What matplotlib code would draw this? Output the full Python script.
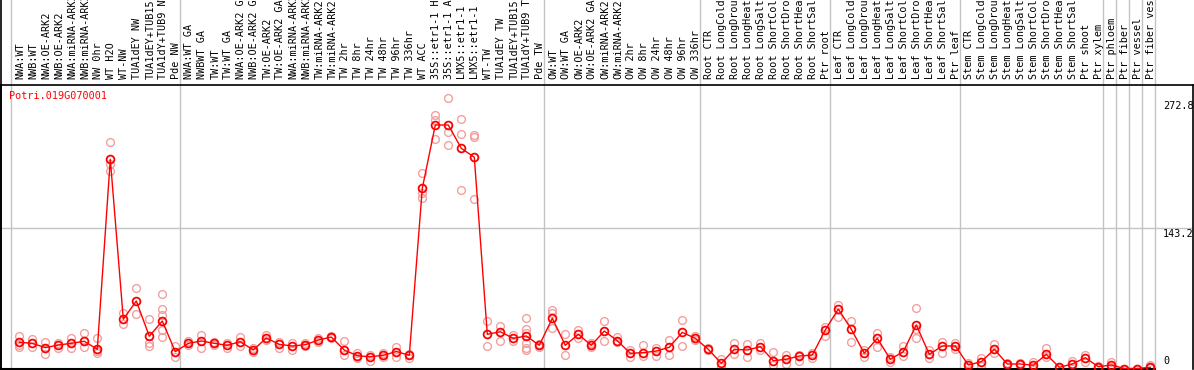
"""
Expression profile of Potri.019G070001 across poplar samples.
Mean per sample as a red line, replicates as pale circles.
"""

import matplotlib
matplotlib.use("Agg")
import matplotlib.pyplot as plt
from matplotlib.transforms import blended_transform_factory


# Data

GENE = "Potri.019G070001"

samples = [
    "NWA:WT", "NWB:WT", "NWA:OE-ARK2", "NWB:OE-ARK2", "NWA:miRNA-ARK2",
    "NWB:miRNA-ARK2", "NW 0hr", "WT H2O", "WT-NW", "TUA1dEY NW",
    "TUA1dEY+TUB15", "TUA1dY+TUB9 NW", "Pde NW",
    "NWA:WT GA", "NWBWT GA", "TW:WT", "TW:WT GA", "NWA:OE-ARK2 GA",
    "NWB:OE-ARK2 GA", "TW:OE-ARK2", "TW:OE-ARK2 GA", "NWA:miRNA-ARK2",
    "NWB:miRNA-ARK2", "TW:miRNA-ARK2", "TW:miRNA-ARK2", "TW 2hr", "TW 8hr",
    "TW 24hr", "TW 48hr", "TW 96hr", "TW 336hr", "WT ACC", "35S::etr1-1 H2O",
    "35S::etr1-1 ACC", "LMX5::etr1-1 H2O", "LMX5::etr1-1 ACC", "WT-TW",
    "TUA1dEY TW", "TUA1dEY+TUB15", "TUA1dY+TUB9 TW", "Pde TW",
    "OW:WT", "OW:WT GA", "OW:OE-ARK2", "OW:OE-ARK2 GA", "OW:miRNA-ARK2",
    "OW:miRNA-ARK2", "OW 2hr", "OW 8hr", "OW 24hr", "OW 48hr", "OW 96hr",
    "OW 336hr",
    "Root CTR", "Root LongCold", "Root LongDrought", "Root LongHeat",
    "Root LongSalt", "Root ShortCold", "Root ShortDrought", "Root ShortHeat",
    "Root ShortSalt", "Ptr root",
    "Leaf CTR", "Leaf LongCold", "Leaf LongDrought", "Leaf LongHeat",
    "Leaf LongSalt", "Leaf ShortCold", "Leaf ShortDrought", "Leaf ShortHeat",
    "Leaf ShortSalt", "Ptr leaf",
    "Stem CTR", "Stem LongCold", "Stem LongDrought", "Stem LongHeat",
    "Stem LongSalt", "Stem ShortCold", "Stem ShortDrought", "Stem ShortHeat",
    "Stem ShortSalt", "Ptr shoot", "Ptr xylem",
    "Ptr phloem", "Ptr fiber", "Ptr vessel", "Ptr fiber vessel",
]

# first sample index of every group (separator lines)
group_starts = [0, 13, 41, 53, 63, 73, 84, 85, 86, 87, 88]

means = [
    26.7, 25.6, 21.2, 23.9, 25.6, 27.7, 19.5, 212.8, 50.1, 68.7,
    32.8, 48.3, 17.1, 25.6, 28.0, 25.6, 23.6, 27.3, 18.8, 31.0,
    24.6, 22.9, 24.2, 29.0, 32.0, 18.8, 13.0, 12.0, 13.4, 17.3,
    13.4, 183.3, 247.7, 247.7, 224.0, 214.9, 34.8, 37.4, 30.7, 33.1,
    23.6, 51.1, 23.6, 34.8, 23.6, 38.1, 28.3, 15.5, 16.1, 17.8,
    21.6, 36.8, 30.7, 19.5, 5.3, 19.5, 18.8, 22.2, 7.9, 9.4,
    12.7, 13.7, 39.2, 60.5, 39.9, 15.5, 30.7, 9.4, 17.1, 44.3,
    14.4, 22.9, 22.9, 3.6, 6.9, 19.5, 4.6, 4.6, 3.3, 14.4,
    1.2, 4.6, 11.0, 1.8, 3.6, 0.0, 0.0, 1.2,
]

replicates = [
    [33.1, 22.2, 23.9], [29.7, 22.2], [27.0, 14.4], [25.6, 21.2],
    [31.3, 21.2], [36.1, 22.2], [30.7, 15.5, 17.8], [230.1, 200.9, 208.0],
    [56.2, 45.0], [81.9, 55.1], [50.4, 25.6, 22.9],
    [75.8, 60.5, 54.4, 39.2, 31.7], [22.9, 12.0],
    [28.3, 23.6], [34.1, 20.5], [27.3, 23.9], [25.6, 20.5], [32.0, 22.9],
    [20.5, 16.8], [34.1, 29.0], [27.3, 20.5], [26.2, 18.8], [25.6, 22.9],
    [30.7, 27.3], [33.4, 30.7], [27.7, 13.7], [15.5, 10.4], [13.7, 7.9],
    [15.5, 12.0], [22.2, 12.0], [10.4, 14.8], [198.6, 178.2, 173.8],
    [257.9, 252.8, 233.2], [274.9, 240.9, 227.1], [253.5, 238.2, 181.6],
    [237.5, 235.2, 172.1], [48.3, 22.9], [43.2, 28.0], [34.1, 28.3],
    [51.7, 39.9, 36.1, 25.6, 20.5, 18.8], [24.9, 22.2],
    [59.5, 40.9, 56.5], [34.8, 13.4], [39.2, 30.7], [25.6, 22.2],
    [48.3, 28.0], [31.7, 26.7], [18.8, 12.0], [23.6, 13.0], [20.5, 13.0],
    [29.0, 13.7], [49.3, 22.9], [33.1, 29.0],
    [20.5, 18.8], [9.4, 1.8], [25.6, 14.4], [24.9, 12.0], [26.2, 18.8],
    [16.8, 3.6], [13.7, 4.6], [13.7, 7.9], [16.1, 10.4], [42.5, 33.1],
    [64.6, 52.7], [48.3, 26.7], [18.8, 12.0], [36.4, 21.9], [12.0, 6.9],
    [22.9, 13.0], [61.2, 31.3, 40.2], [18.8, 10.4], [27.3, 15.5],
    [25.6, 19.8],
    [5.3, 1.8], [11.0, 2.5], [24.9, 15.5], [5.9, 3.6], [5.9, 3.6],
    [6.9, 1.2], [20.5, 12.0], [1.8, 0.5], [7.9, 1.8], [13.7, 6.9],
    [2.5, 0.5], [6.9, 1.2], [0.0], [0.0], [3.6, 0.5],
]

y_ticks = [272.8, 143.2, 0]


# Colors

C_LINE = "#ff0000"
C_REP = "#f2a0a0"
C_GRID = "#c3c3c3"
C_TEXT = "#000000"

W, H = 1194, 370
MONO = "DejaVu Sans Mono"


# Figure (pixel layout)

fig = plt.figure(figsize=(W / 100, H / 100), dpi=100, facecolor="white")
ax_top, ax_bot = 85, 369                      # px from top
ax = fig.add_axes([1 / W, (H - ax_bot) / H, (W - 2) / W, (ax_bot - ax_top) / H])
ax.set_facecolor("white")

x0_px, step_px = 19.3, 13.0                   # centre of sample 0, spacing
ax.set_xlim((1 - x0_px) / step_px, (W - 1 - x0_px) / step_px)
ax.set_ylim(-0.5, 288.4)
ax.set_xticks([])
ax.set_yticks([])
for side in ("bottom",):
    ax.spines[side].set_visible(False)
for side in ("left", "top", "right"):
    ax.spines[side].set_color("black")
    ax.spines[side].set_linewidth(1.2)

over_top = (ax_bot - 0) / (ax_bot - ax_top)   # axes fraction of image top

# group separators, running up through the label band
for s in group_starts:
    ax.axvline(s - 0.62, ymin=0, ymax=over_top, color=C_GRID, lw=1.0,
               clip_on=False, zorder=1)

# left border continues up through the label band
ax.plot([0, 0], [0, over_top], transform=ax.transAxes, color="black",
        lw=1.2, clip_on=False, zorder=3)
# bottom border stops at the last separator
ax.plot([ax.get_xlim()[0], group_starts[-1] - 0.62], [-0.5, -0.5],
        color="black", lw=1.5, clip_on=False, zorder=3)

ax.axhline(143.2, color=C_GRID, lw=1.0, zorder=1)

# replicates
for i, reps in enumerate(replicates):
    ax.plot([i] * len(reps), reps, linestyle="none", marker="o",
            markersize=5.6, markerfacecolor="none", markeredgecolor=C_REP,
            markeredgewidth=1.0, zorder=2)

# means
xs = list(range(len(means)))
ax.plot(xs, means, color=C_LINE, lw=1.0, marker="o", markersize=5.6,
        markerfacecolor="none", markeredgecolor=C_LINE, markeredgewidth=1.3,
        zorder=4)

# sample labels above the plot
lab_tr = blended_transform_factory(ax.transData, ax.transAxes)
lab_y = (ax_bot - 79) / (ax_bot - ax_top)
for i, name in enumerate(samples):
    ax.text(i + 0.08, lab_y, name, transform=lab_tr, rotation=90,
            ha="center", va="bottom", fontsize=7.3, family=MONO,
            color=C_TEXT, clip_on=False)

# gene name
ax.text(8.5 / (W - 2), (ax_bot - 91) / (ax_bot - ax_top), GENE,
        transform=ax.transAxes, ha="left", va="top", fontsize=7.3,
        family=MONO, color=C_LINE)

# value labels on the right
val_tr = blended_transform_factory(ax.transAxes, ax.transData)
lx = (1163 - 1) / (W - 2)
for v in y_ticks:
    if v == 0:
        ax.text(lx, v + 2.5, "0", transform=val_tr, ha="left", va="bottom",
                fontsize=7.3, family=MONO, color=C_TEXT)
    else:
        ax.text(lx, v - 1.0, f"{v:.1f}", transform=val_tr, ha="left",
                va="top", fontsize=7.3, family=MONO, color=C_TEXT)

fig.savefig("out.png", dpi=100, facecolor="white")
